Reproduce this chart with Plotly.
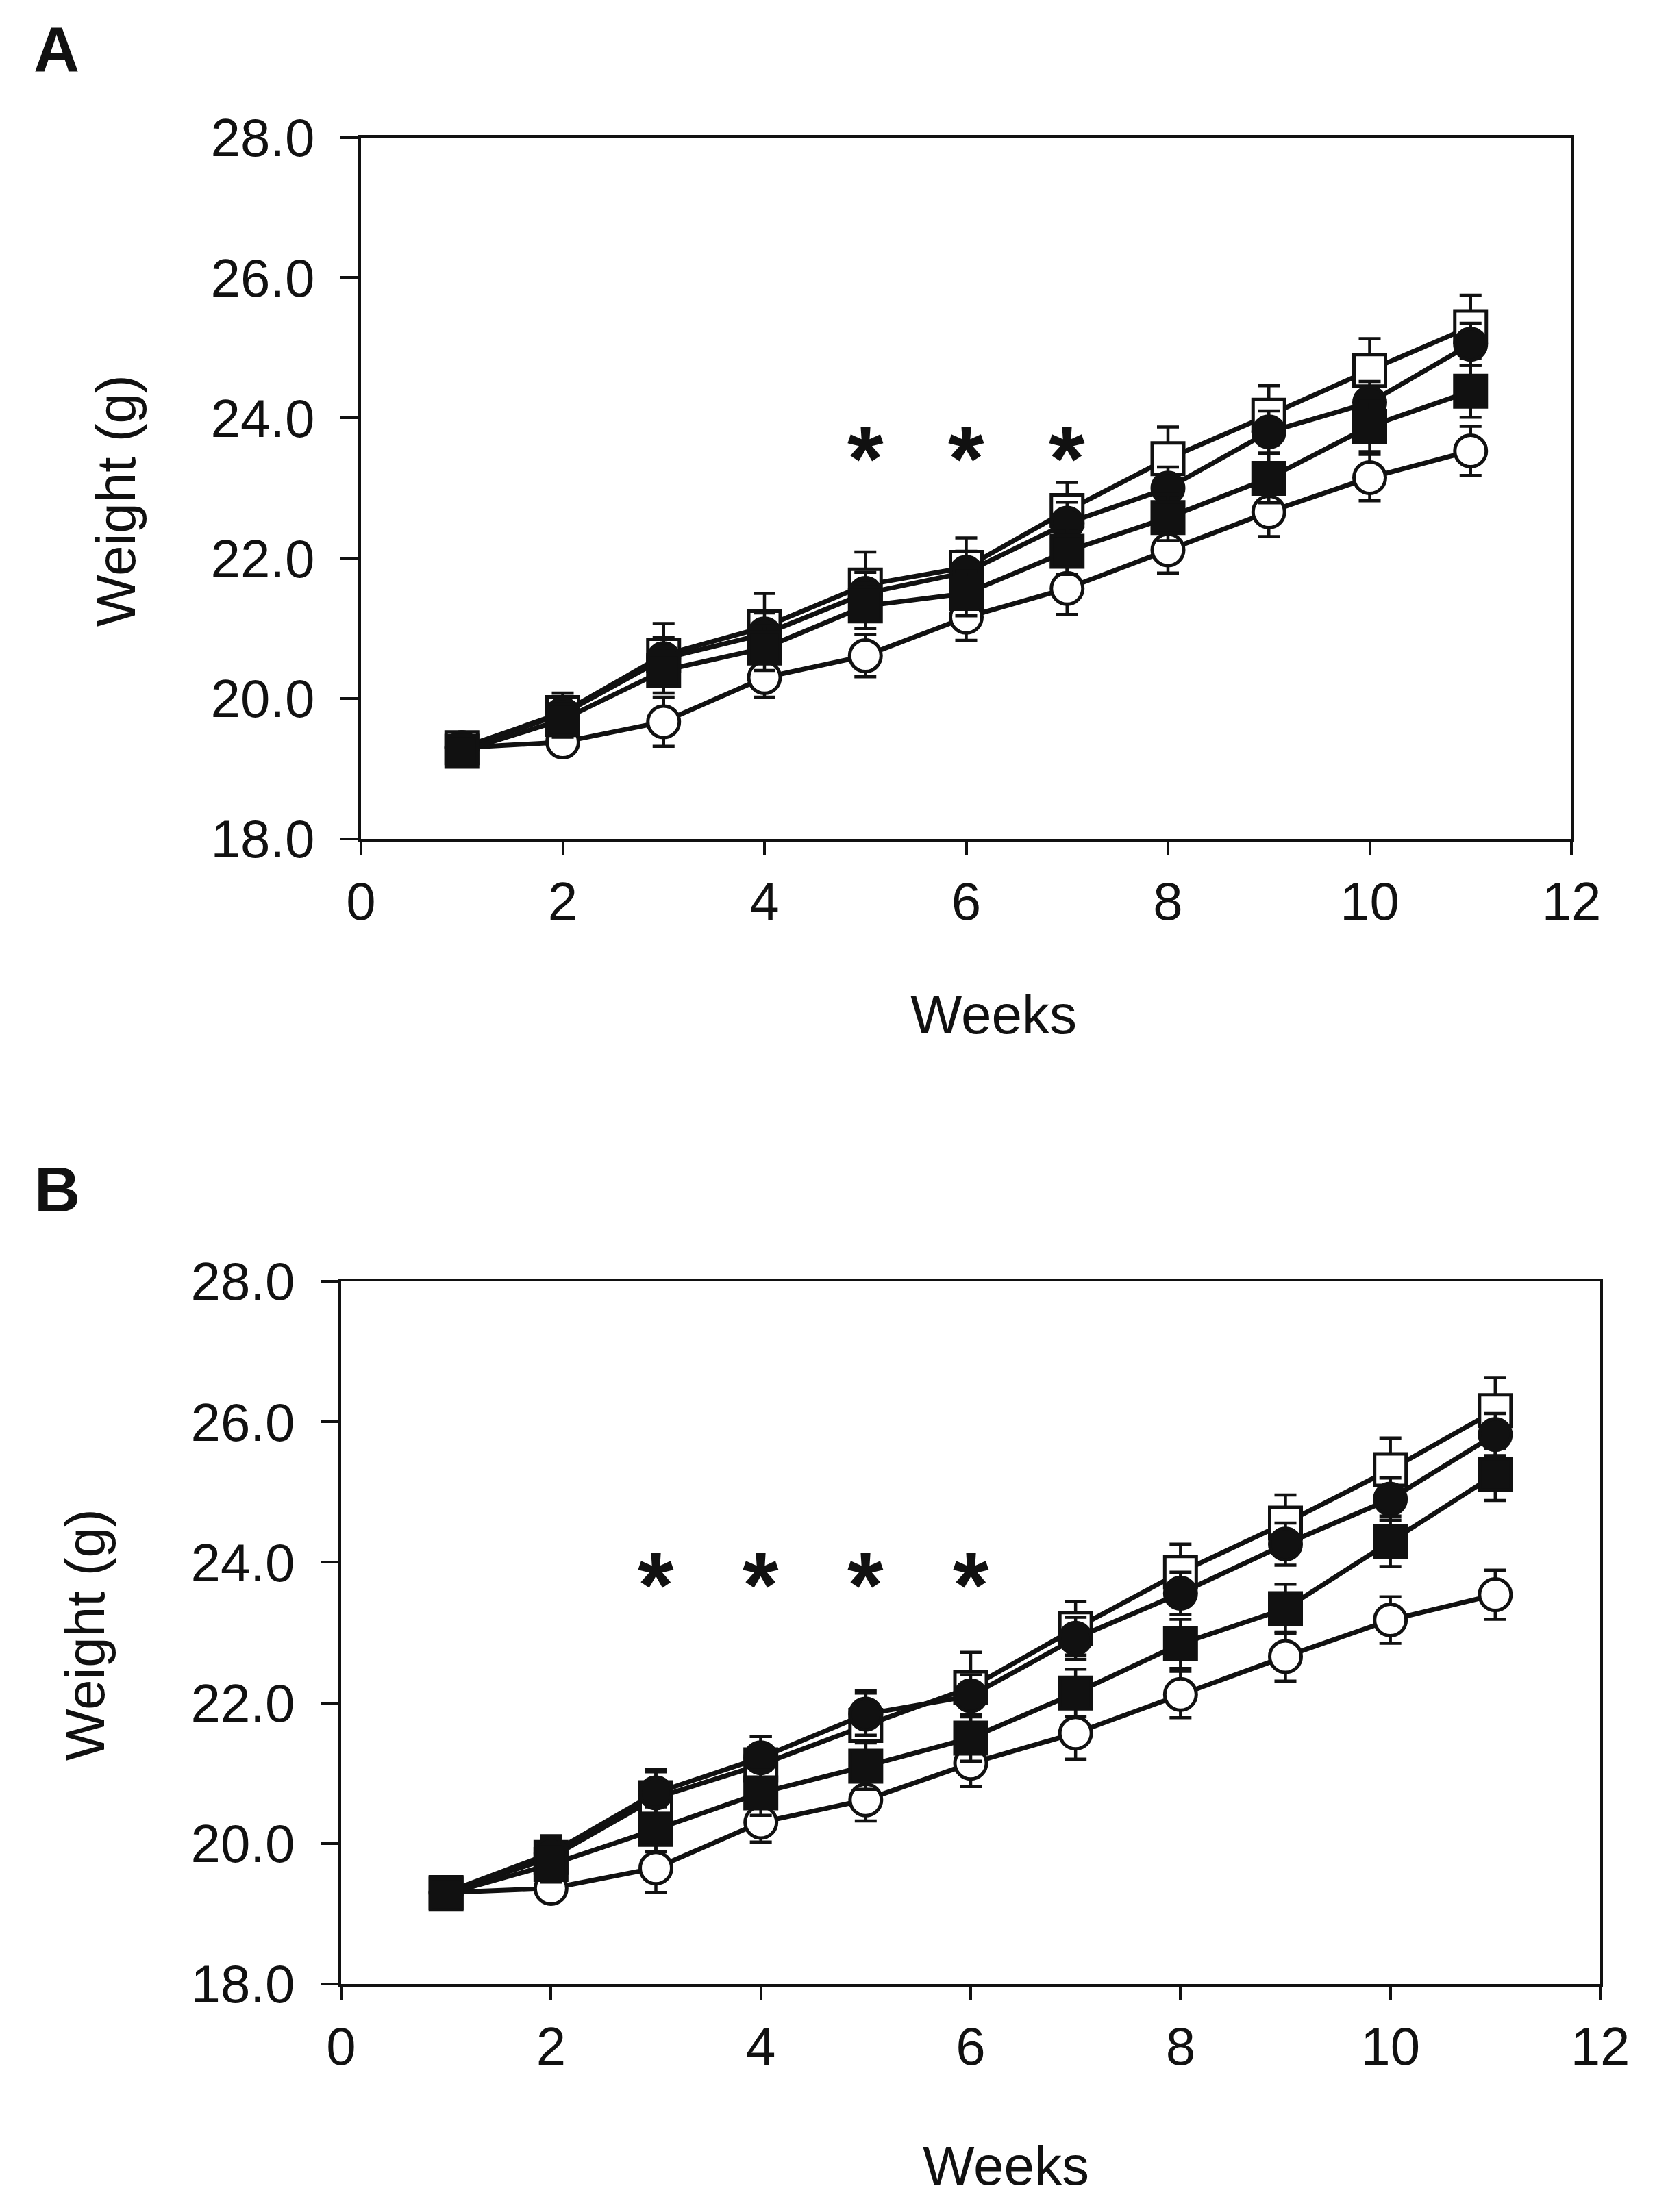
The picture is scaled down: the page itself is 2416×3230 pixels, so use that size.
import plotly.graph_objects as go

weeks = [1, 2, 3, 4, 5, 6, 7, 8, 9, 10, 11]

# Panel A
a_open_sq = [19.30, 19.80, 20.62, 21.02, 21.62, 21.87, 22.68, 23.42, 24.04, 24.68, 25.30]
a_open_sq_err = [0.15, 0.28, 0.45, 0.48, 0.47, 0.42, 0.40, 0.45, 0.42, 0.45, 0.45]
a_fill_ci = [19.30, 19.78, 20.57, 20.92, 21.50, 21.80, 22.50, 23.00, 23.80, 24.22, 25.05]
a_fill_ci_err = [0.12, 0.25, 0.30, 0.30, 0.30, 0.30, 0.30, 0.30, 0.30, 0.30, 0.30]
a_fill_sq = [19.25, 19.70, 20.40, 20.72, 21.32, 21.50, 22.10, 22.58, 23.14, 23.88, 24.38]
a_fill_sq_err = [0.12, 0.25, 0.32, 0.32, 0.32, 0.32, 0.33, 0.33, 0.35, 0.36, 0.37]
a_open_ci = [19.30, 19.38, 19.67, 20.30, 20.61, 21.16, 21.57, 22.12, 22.66, 23.15, 23.53]
a_open_ci_err = [0.10, 0.15, 0.35, 0.28, 0.30, 0.33, 0.37, 0.33, 0.35, 0.33, 0.35]
a_star_weeks = [5, 6, 7]
a_star_level = [23.6, 23.6, 23.6]

# Panel B
b_open_sq = [19.30, 19.80, 20.65, 21.12, 21.68, 22.22, 23.06, 23.86, 24.56, 25.32, 26.16]
b_open_sq_err = [0.15, 0.28, 0.40, 0.40, 0.50, 0.50, 0.38, 0.40, 0.40, 0.45, 0.47]
b_fill_ci = [19.30, 19.86, 20.72, 21.22, 21.84, 22.10, 22.92, 23.56, 24.26, 24.90, 25.82]
b_fill_ci_err = [0.12, 0.25, 0.30, 0.30, 0.30, 0.30, 0.30, 0.30, 0.30, 0.30, 0.30]
b_fill_sq = [19.28, 19.70, 20.20, 20.72, 21.10, 21.50, 22.14, 22.84, 23.34, 24.30, 25.25]
b_fill_sq_err = [0.12, 0.25, 0.32, 0.32, 0.33, 0.33, 0.34, 0.35, 0.35, 0.36, 0.37]
b_open_ci = [19.30, 19.36, 19.65, 20.30, 20.62, 21.14, 21.57, 22.12, 22.66, 23.18, 23.54]
b_open_ci_err = [0.10, 0.15, 0.35, 0.28, 0.30, 0.33, 0.37, 0.33, 0.35, 0.33, 0.35]
b_star_weeks = [3, 4, 5, 6]
b_star_level = [23.85, 23.85, 23.85, 23.85]

x_ticks = [0, 2, 4, 6, 8, 10, 12]
y_ticks = [18, 20, 22, 24, 26, 28]

FONT = "Arial, 'Liberation Sans', sans-serif"
INK = "#111111"
MS = 46

W, H = 2416, 3230
OFF = 8  # page body margin of the exported html


def px(x):
    return (x - OFF) / W


def py(y):
    return 1 - (y - OFF) / H


fig = go.Figure()


def add_series(xa, ya, vals, errs, symbol, fill):
    fig.add_trace(go.Scatter(
        x=weeks, y=vals, mode="lines+markers", xaxis=xa, yaxis=ya,
        line=dict(color=INK, width=7),
        marker=dict(symbol=symbol, size=MS, color=fill,
                    line=dict(color=INK, width=5)),
        error_y=dict(type="data", array=errs, visible=True,
                     color=INK, thickness=4.5, width=16),
        showlegend=False, cliponaxis=False,
    ))


panels = [
    ("x", "y", a_open_ci, a_open_ci_err, a_open_sq, a_open_sq_err,
     a_fill_ci, a_fill_ci_err, a_fill_sq, a_fill_sq_err, a_star_weeks, a_star_level),
    ("x2", "y2", b_open_ci, b_open_ci_err, b_open_sq, b_open_sq_err,
     b_fill_ci, b_fill_ci_err, b_fill_sq, b_fill_sq_err, b_star_weeks, b_star_level),
]

for (xa, ya, oc, oce, osq, osqe, fc, fce, fsq, fsqe, sw, sl) in panels:
    add_series(xa, ya, oc, oce, "circle", "white")
    add_series(xa, ya, osq, osqe, "square", "white")
    add_series(xa, ya, fc, fce, "circle", INK)
    add_series(xa, ya, fsq, fsqe, "square", INK)
    for wk, lv in zip(sw, sl):
        fig.add_annotation(x=wk, y=lv, xref=xa, yref=ya, text="<b>*</b>",
                           showarrow=False, yshift=-18,
                           xanchor="center", yanchor="middle",
                           font=dict(family="'Liberation Sans', Arial",
                                     size=135, color=INK))


def xaxis_cfg(domain, anchor):
    return dict(domain=domain, anchor=anchor, range=[0, 12], tickvals=x_ticks,
                automargin=False,
                showgrid=False, zeroline=False, showline=True, mirror=True,
                linecolor=INK, linewidth=4, ticks="outside", ticklen=20,
                tickwidth=4, tickcolor=INK,
                tickfont=dict(family=FONT, size=78, color=INK))


def yaxis_cfg(domain, anchor):
    return dict(domain=domain, anchor=anchor, range=[18, 28], tickvals=y_ticks,
                automargin=False, ticklabelstandoff=22,
                tickformat=".1f", showgrid=False, zeroline=False, showline=True,
                mirror=True, linecolor=INK, linewidth=4, ticks="outside",
                ticklen=26, tickwidth=4, tickcolor=INK,
                tickfont=dict(family=FONT, size=78, color=INK))


fig.update_layout(
    width=W, height=H, autosize=False,
    margin=dict(l=0, r=0, t=0, b=0, pad=0),
    paper_bgcolor="white", plot_bgcolor="white",
    xaxis=xaxis_cfg([px(527), px(2294)], "y"),
    yaxis=yaxis_cfg([py(1225), py(200.5)], "x"),
    xaxis2=xaxis_cfg([px(498), px(2336)], "y2"),
    yaxis2=yaxis_cfg([py(2897), py(1871)], "x2"),
)


def note(text, x, y, size, bold=False, angle=0):
    fig.add_annotation(text=f"<b>{text}</b>" if bold else text,
                       x=px(x), y=py(y), xref="paper", yref="paper",
                       showarrow=False, textangle=angle,
                       xanchor="center", yanchor="middle",
                       font=dict(family=FONT, size=size, color=INK))


note("A", 82, 72, 93, bold=True)
note("B", 83, 1737, 93, bold=True)
note("Weeks", 1450, 1481, 80)
note("Weeks", 1468, 3162, 80)
note("Weight (g)", 170, 731, 80, angle=-90)
note("Weight (g)", 124, 2387, 80, angle=-90)

fig.write_html("out.html")
